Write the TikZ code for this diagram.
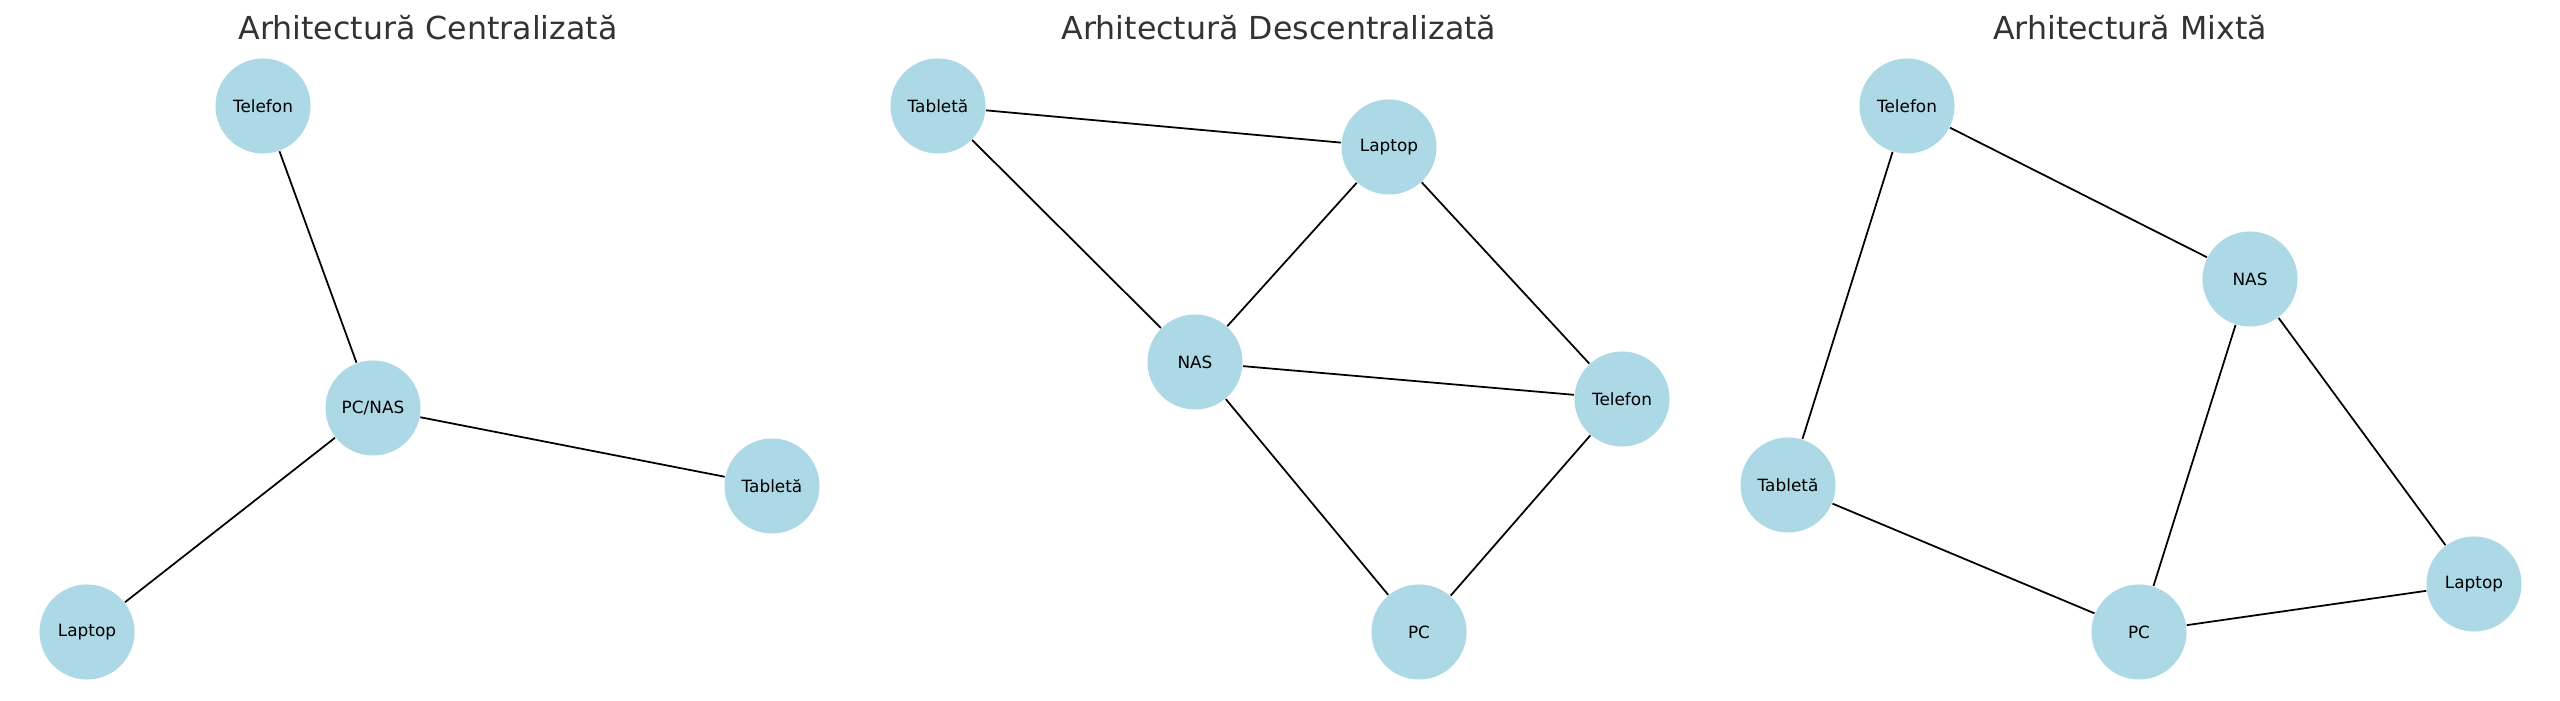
\documentclass[tikz,border=0pt]{standalone}
\usepackage{fontspec}
\setmainfont{DejaVu Sans}
\definecolor{nodeblue}{HTML}{ADD8E6}
\definecolor{titlegray}{HTML}{333333}
\begin{document}
\begin{tikzpicture}[x=0.01cm,y=-0.01cm,
  dev/.style={circle,fill=nodeblue,draw=none,minimum size=0.95cm,inner sep=0pt,font=\fontsize{4.8}{5.5}\selectfont,text=black},
  ttl/.style={font=\fontsize{9}{10}\selectfont,text=titlegray},
  link/.style={draw=black,line width=0.5pt}]
\useasboundingbox (0,0) rectangle (2560,701);
% titles
\node[ttl] (t1) at (428,28) {Arhitectură Centralizată};
\node[ttl] (t2) at (1279,28) {Arhitectură Descentralizată};
\node[ttl] (t3) at (2130,28) {Arhitectură Mixtă};
% panel 1
\node[dev] (a1) at (263,106) {Telefon};
\node[dev] (a2) at (373,408) {PC/NAS};
\node[dev] (a3) at (772,486) {Tabletă};
\node[dev] (a4) at (87,632) {Laptop};
% panel 2
\node[dev] (b1) at (938,106) {Tabletă};
\node[dev] (b2) at (1389,147) {Laptop};
\node[dev] (b3) at (1195,362) {NAS};
\node[dev] (b4) at (1622,399) {Telefon};
\node[dev] (b5) at (1419,632) {PC};
% panel 3
\node[dev] (c1) at (1907,106) {Telefon};
\node[dev] (c2) at (2250,279) {NAS};
\node[dev] (c3) at (1788,485) {Tabletă};
\node[dev] (c4) at (2139,632) {PC};
\node[dev] (c5) at (2474,584) {Laptop};
% edges
\draw[link] (a1) -- (a2);
\draw[link] (a2) -- (a3);
\draw[link] (a2) -- (a4);
\draw[link] (b1) -- (b2);
\draw[link] (b1) -- (b3);
\draw[link] (b2) -- (b3);
\draw[link] (b2) -- (b4);
\draw[link] (b3) -- (b4);
\draw[link] (b3) -- (b5);
\draw[link] (b4) -- (b5);
\draw[link] (c1) -- (c2);
\draw[link] (c1) -- (c3);
\draw[link] (c2) -- (c4);
\draw[link] (c2) -- (c5);
\draw[link] (c3) -- (c4);
\draw[link] (c4) -- (c5);
\end{tikzpicture}
\end{document}
